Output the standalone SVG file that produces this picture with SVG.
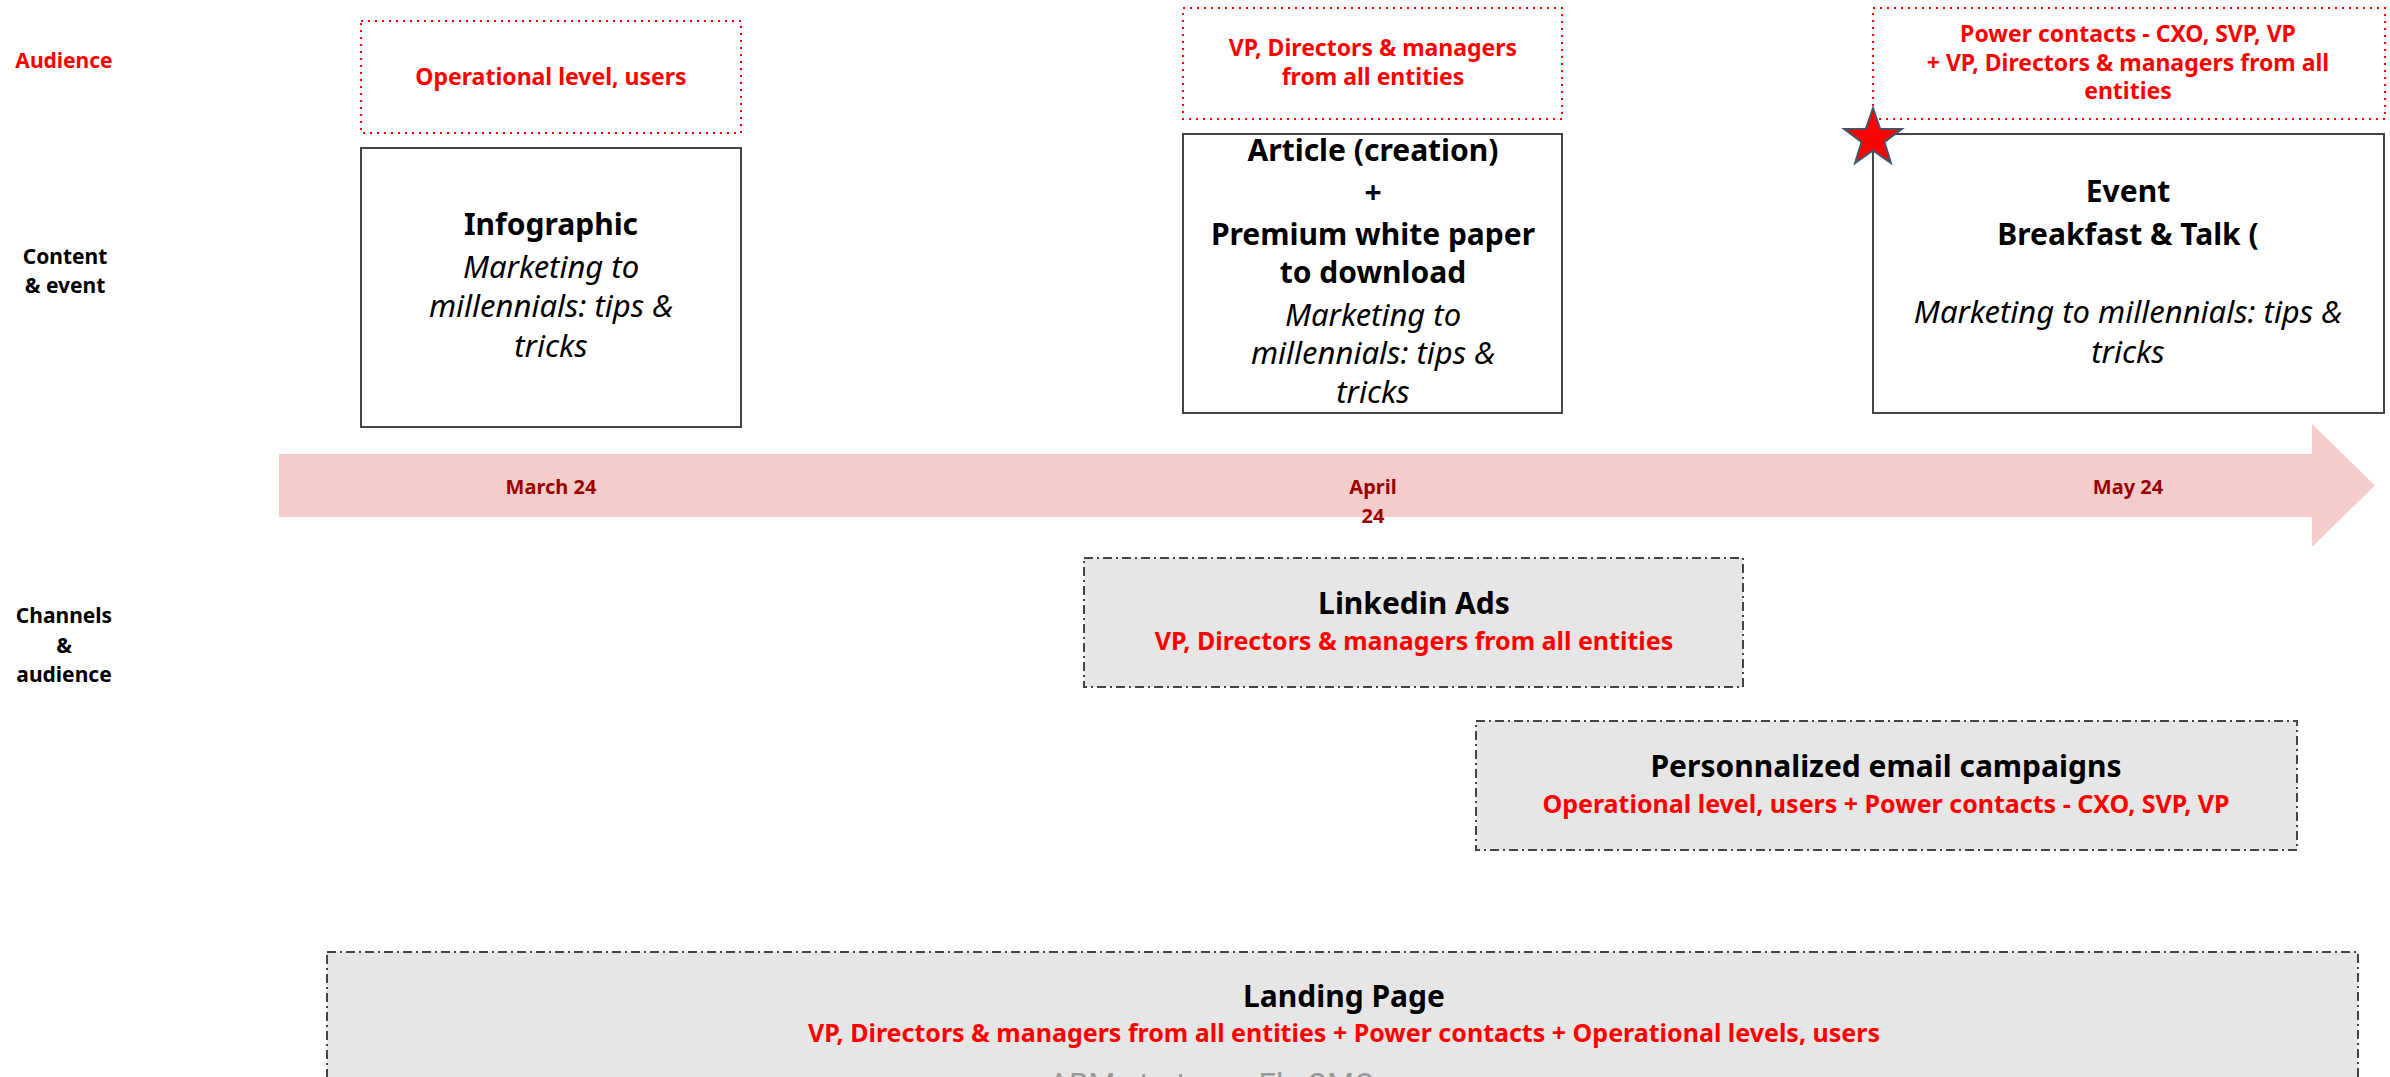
<svg xmlns="http://www.w3.org/2000/svg" width="2390" height="1077" viewBox="0 0 2390 1077">
<style>
text{font-family:"Noto Sans","Liberation Sans",sans-serif;text-anchor:middle}
.lbl{font-size:21px;font-weight:bold;fill:#000}
.red{fill:#FF0000}
.aud{font-size:23px;font-weight:bold;fill:#FF0000}
.ttl{font-size:30px;font-weight:bold;fill:#000}
.it{font-size:31px;font-style:italic;fill:#000}
.sub{font-size:25px;font-weight:bold;fill:#FF0000}
.date{font-size:20px;font-weight:bold;fill:#990000}
.audbox{fill:none;stroke:#FF0000;stroke-width:2;stroke-dasharray:2 5}
.cbox{fill:#FFFFFF;stroke:#444444;stroke-width:2}
.chbox{fill:#E6E6E6;stroke:#444444;stroke-width:2;stroke-dasharray:9 4 2 4}
</style>
<rect x="0" y="0" width="2390" height="1077" fill="#FFFFFF"/>

<g id="row-labels">
<text class="lbl red" x="64" y="68">Audience</text>
<text class="lbl" x="65" y="264">Content</text>
<text class="lbl" x="65" y="293">&amp; event</text>
<text class="lbl" x="64" y="623">Channels</text>
<text class="lbl" x="64" y="653">&amp;</text>
<text class="lbl" x="64" y="682">audience</text>
</g>

<g id="timeline">
<polygon points="279,454 2312,454 2312,424 2375,485.5 2312,547 2312,517 279,517" fill="#F4CCCC"/>
<text class="date" x="551" y="494">March 24</text>
<text class="date" x="1373" y="494">April</text>
<text class="date" x="1373" y="523">24</text>
<text class="date" x="2128" y="494">May 24</text>
</g>

<g id="audience-march">
<rect class="audbox" x="361" y="21" width="380" height="112"/>
<text class="aud" x="551" y="85">Operational level, users</text>
</g>
<g id="content-infographic">
<rect class="cbox" x="361" y="148" width="380" height="279"/>
<text class="ttl" x="551" y="235">Infographic</text>
<text class="it" x="551" y="278">Marketing to</text>
<text class="it" x="551" y="317">millennials: tips &amp;</text>
<text class="it" x="551" y="357">tricks</text>
</g>

<g id="audience-april">
<rect class="audbox" x="1183" y="8" width="379" height="111"/>
<text class="aud" x="1373" y="56">VP, Directors &amp; managers</text>
<text class="aud" x="1373" y="85">from all entities</text>
</g>
<g id="content-article">
<rect class="cbox" x="1183" y="134" width="379" height="279"/>
<text class="ttl" x="1373" y="161">Article (creation)</text>
<text class="ttl" x="1373" y="203">+</text>
<text class="ttl" x="1373" y="245">Premium white paper</text>
<text class="ttl" x="1373" y="283">to download</text>
<text class="it" x="1373" y="326">Marketing to</text>
<text class="it" x="1373" y="364">millennials: tips &amp;</text>
<text class="it" x="1373" y="403">tricks</text>
</g>

<g id="audience-may">
<rect class="audbox" x="1873" y="8" width="512" height="111"/>
<text class="aud" x="2128" y="42">Power contacts - CXO, SVP, VP</text>
<text class="aud" x="2128" y="71">+ VP, Directors &amp; managers from all</text>
<text class="aud" x="2128" y="99">entities</text>
</g>
<g id="content-event">
<rect class="cbox" x="1873" y="134" width="511" height="279"/>
<text class="ttl" x="2128" y="202">Event</text>
<text class="ttl" x="2128" y="245">Breakfast &amp; Talk (</text>
<text class="it" x="2128" y="323">Marketing to millennials: tips &amp;</text>
<text class="it" x="2128" y="363">tricks</text>
</g>
<g id="star">
<polygon points="1873,108 1880.1,128.7 1901.9,128.9 1884.5,142.0 1890.9,162.9 1873,150.4 1855.1,162.9 1861.5,142.0 1844.1,128.9 1865.9,128.7" fill="#FF0000" stroke="#44546A" stroke-width="2" stroke-linejoin="miter"/>
</g>

<g id="channel-linkedin">
<rect class="chbox" x="1084" y="558" width="659" height="129"/>
<text class="ttl" x="1414" y="614">Linkedin Ads</text>
<text class="sub" x="1414" y="650">VP, Directors &amp; managers from all entities</text>
</g>

<g id="channel-email">
<rect class="chbox" x="1476" y="721" width="821" height="129"/>
<text class="ttl" x="1886" y="777">Personnalized email campaigns</text>
<text class="sub" x="1886" y="813">Operational level, users + Power contacts - CXO, SVP, VP</text>
</g>

<g id="channel-landing">
<rect class="chbox" x="327" y="952" width="2031" height="160"/>
<text class="ttl" x="1344" y="1007">Landing Page</text>
<text class="sub" x="1344" y="1042">VP, Directors &amp; managers from all entities + Power contacts + Operational levels, users</text>
<text x="1212" y="1095" style="font-family:Roboto,'Liberation Sans',sans-serif;font-size:31px;fill:#999999">ABM strategy - Elx CMO</text>
</g>

<g id="connectors"></g>
</svg>
